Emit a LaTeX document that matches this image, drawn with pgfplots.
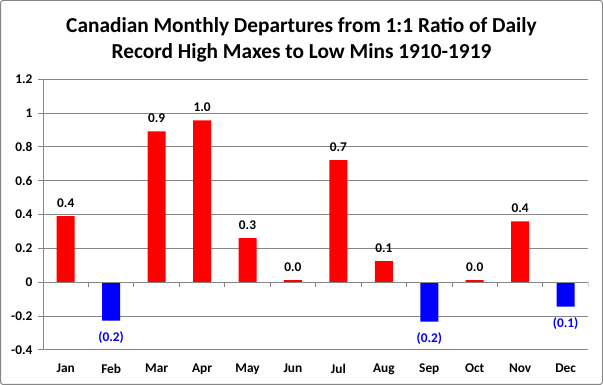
\documentclass[border=0pt]{standalone}
\usepackage{pgfplots}
\pgfplotsset{compat=1.18}
\usepackage{fontspec}
\setmainfont{Carlito}
\definecolor{gridgray}{HTML}{868686}
\definecolor{myred}{HTML}{FF0000}
\definecolor{myblue}{HTML}{0000FF}
\pgfplotstableread{
x y label
0 0.392 0.4
2 0.893 0.9
3 0.958 1.0
4 0.262 0.3
5 0.013 0.0
6 0.722 0.7
7 0.126 0.1
9 0.013 0.0
10 0.360 0.4
}\pos
\pgfplotstableread{
x y label
1 -0.226 (0.2)
8 -0.232 (0.2)
11 -0.143 (0.1)
}\negv
\begin{document}
\bfseries
\begin{tikzpicture}
\useasboundingbox (0,0) rectangle (452.25pt,288.75pt);
\draw[gridgray, line width=0.75pt, rounded corners=2pt] (0.375pt,0.375pt) rectangle (451.875pt,288.375pt);
\node[align=center, font=\fontsize{16}{20}\selectfont\bfseries] at (226.1pt,259pt) {Canadian Monthly Departures from 1:1 Ratio of Daily\\Record High Maxes to Low Mins 1910-1919};
\begin{axis}[
  at={(32.25pt,26.25pt)}, anchor=south west,
  scale only axis, width=409pt, height=203pt,
  xmin=-0.5, xmax=11.5, ymin=-0.4, ymax=1.2,
  xtick={0,1,2,3,4,5,6,7,8,9,10,11},
  xticklabels={Jan,Feb,Mar,Apr,May,Jun,Jul,Aug,Sep,Oct,Nov,Dec},
  ytick={-0.4,-0.2,0,0.2,0.4,0.6,0.8,1,1.2},
  yticklabels={-0.4,-0.2,0,0.2,0.4,0.6,0.8,1,1.2},
  ymajorgrids, grid style={gridgray, line width=0.75pt},
  axis x line*=bottom, axis y line*=left,
  axis line style={gridgray, line width=0.75pt, -},
  x tick style={draw=none},
  y tick style={gridgray, line width=0.75pt},
  ytick align=outside, major tick length=3.75pt,
  tick label style={font=\fontsize{10}{12}\selectfont\bfseries, black},
  yticklabel style={anchor=east, inner sep=0pt, xshift=-4pt},
  xticklabel style={anchor=north, inner sep=0pt, yshift=-6.5pt},
  ybar, bar width=13.5pt, bar shift=0pt,
  point meta=explicit symbolic,
  nodes near coords,
  nodes near coords style={font=\fontsize{10}{12}\selectfont\bfseries},
]
\addplot[fill=myred, draw=none, nodes near coords style={black, anchor=south, yshift=3pt}] table[x=x, y=y, meta=label] {\pos};
\addplot[fill=myblue, draw=none, nodes near coords style={myblue, anchor=north, yshift=-4.5pt}] table[x=x, y=y, meta=label] {\negv};
\draw[gridgray, line width=0.75pt] (axis cs:-0.5,0) -- (axis cs:11.5,0);
\pgfplotsinvokeforeach{0.5,1.5,...,11.5}{\draw[gridgray, line width=0.75pt] (axis cs:#1,0) -- ([yshift=-3.75pt]axis cs:#1,0);}
\end{axis}
\end{tikzpicture}
\end{document}
